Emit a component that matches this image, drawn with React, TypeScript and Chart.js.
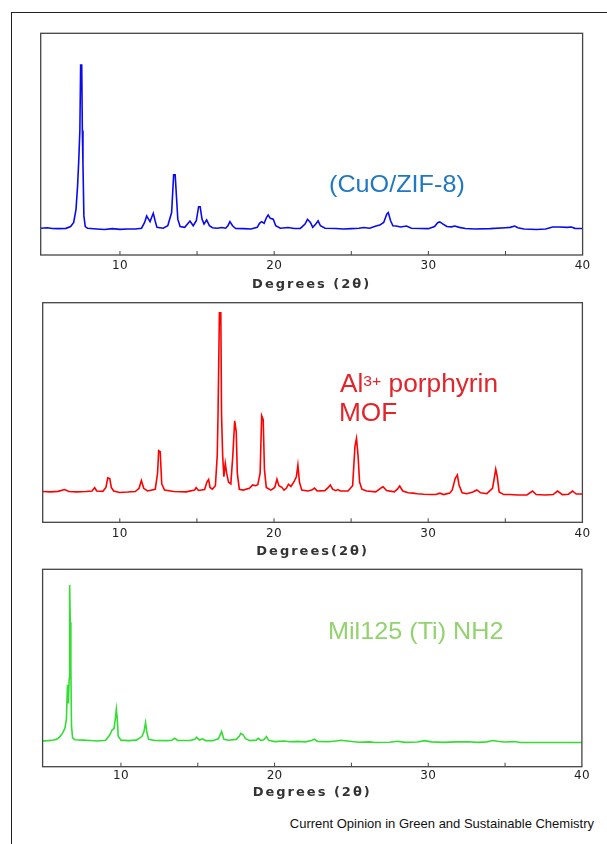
import React, { useEffect, useRef } from 'react';
import { Chart, registerables } from 'chart.js';

Chart.register(...registerables);

// ---------- data (2θ in degrees, relative intensity) ----------
const cuoZif8: [number, number][] = [
  [4.86, 0.5], [5.3, 0.8], [5.6, 0.3], [6.0, 0.2], [6.5, 0.4], [6.8, 1.5], [7.0, 4], [7.15, 12], [7.25, 26], [7.32, 40],
  [7.4, 60], [7.45, 100], [7.52, 100], [7.56, 60], [7.6, 40], [7.66, 8], [7.75, 1.5], [7.9, 0.4], [8.5, 0], [9.0, -0.3],
  [9.5, 0.2], [10.0, -0.2], [10.5, 0], [11.0, 0], [11.4, 0.5], [11.6, 4], [11.73, 7.9], [11.85, 6], [11.95, 4.5], [12.05, 7],
  [12.16, 9.6], [12.28, 5], [12.4, 1], [12.8, 0.5], [13.1, 2], [13.35, 10], [13.48, 33], [13.58, 33], [13.65, 22], [13.75, 6],
  [13.9, 1.5], [14.2, 1], [14.54, 4.9], [14.75, 2], [14.95, 5], [15.1, 13.6], [15.2, 13.6], [15.32, 6], [15.45, 3], [15.62, 5.5],
  [15.8, 2], [16.0, 0.8], [16.3, 0.5], [16.6, 0.9], [16.85, 0.5], [17.0, 2], [17.13, 4.5], [17.3, 2], [17.5, 0.3], [18.0, 0.2],
  [18.5, 0], [18.9, 1], [19.05, 3.5], [19.18, 4.5], [19.35, 3.5], [19.5, 7], [19.61, 8.5], [19.75, 6.5], [19.94, 6], [20.1, 2],
  [20.4, 0.5], [20.9, 0.9], [21.3, 0.3], [21.7, 0.4], [22.0, 3], [22.16, 5.9], [22.35, 4], [22.5, 1], [22.7, 3], [22.85, 5],
  [23.0, 2], [23.3, 0.5], [24.0, 0.3], [24.5, 0], [25.0, 0.2], [25.5, 0.5], [25.8, 0.9], [26.2, 0.5], [26.6, 1.8], [26.85, 2.4],
  [27.1, 4], [27.3, 9], [27.4, 10], [27.55, 5], [27.7, 2], [27.9, 1.8], [28.2, 1.2], [28.58, 1.8], [28.9, 0.5], [29.5, 0.3],
  [30.0, 0.2], [30.4, 1.5], [30.6, 3.8], [30.74, 4.3], [30.95, 3], [31.2, 1.5], [31.5, 1.3], [31.71, 1.8], [32.0, 1], [32.4, 0.3],
  [33.0, 0], [34.0, 0.2], [35.0, 0.8], [35.3, 1], [35.6, 1.8], [35.8, 0.8], [36.2, 0], [37.0, -0.3], [37.6, 0], [38.06, 1.2],
  [38.5, 1.2], [39.0, 1], [39.27, 1.2], [39.5, 0.4], [40, 0.3],
];

const alPorphyrinMof: [number, number][] = [
  [5.0, -0.3], [5.5, -0.5], [6.0, -0.2], [6.42, 0.8], [6.7, -0.3], [7.2, -0.5], [7.8, -0.3], [8.2, 0], [8.37, 1.9], [8.5, 0],
  [8.9, -0.2], [9.1, 2], [9.22, 7.4], [9.35, 7], [9.45, 2], [9.6, 0], [10.0, -0.8], [10.5, -0.6], [11.0, -0.3], [11.25, 1.5],
  [11.4, 5.9], [11.55, 1.5], [11.8, 0], [12.3, 1], [12.45, 10], [12.52, 22.6], [12.62, 22], [12.72, 4], [12.9, 0.5], [13.5, -0.3],
  [14.3, -0.5], [14.85, 0.5], [14.95, 1.9], [15.1, 0.3], [15.5, 0.8], [15.65, 5], [15.76, 6.5], [15.85, 2], [16.0, 1], [16.2, 3],
  [16.32, 20], [16.37, 42.6], [16.46, 100], [16.55, 100], [16.6, 42], [16.67, 20], [16.75, 8], [16.84, 15.5], [16.93, 10], [17.05, 5],
  [17.2, 4], [17.33, 20], [17.45, 39.4], [17.55, 33.3], [17.62, 10], [17.75, 1], [18.0, 0.5], [18.4, 1.5], [18.62, 3.4], [18.8, 3],
  [18.95, 3.5], [19.1, 10], [19.2, 42.2], [19.3, 40], [19.38, 12], [19.5, 2], [19.8, 0.5], [20.05, 2], [20.19, 6.6], [20.32, 3],
  [20.51, 2.1], [20.65, 0.5], [20.8, 1.5], [20.94, 3.8], [21.1, 2.5], [21.3, 5.2], [21.45, 8], [21.55, 14.6], [21.65, 5], [21.8, 0.5],
  [22.2, 0], [22.45, 0.5], [22.63, 1.6], [22.8, 0], [23.3, 0.2], [23.52, 2], [23.65, 3.4], [23.8, 1], [24.0, 0.2], [24.15, 0.8],
  [24.3, 0], [24.8, 0], [25.1, 3], [25.25, 25], [25.35, 29.5], [25.45, 20], [25.55, 5], [25.7, 1], [26.0, 0], [26.6, -0.5],
  [26.9, 1.5], [27.07, 2.4], [27.3, 0.3], [27.8, -0.5], [28.0, 1], [28.15, 2.8], [28.35, 0], [28.7, -1], [29.0, -1.2], [29.3, -1.5],
  [29.7, -1.8], [30.2, -2], [30.5, -2], [30.76, -1.2], [31.0, -2], [31.4, -1.2], [31.56, 0.6], [31.75, 7], [31.89, 9], [32.0, 3.4],
  [32.2, -1], [32.5, -1.5], [32.9, -0.5], [33.15, 0.6], [33.4, -1], [33.8, -1.5], [34.17, 1.5], [34.3, 8], [34.38, 12.2], [34.48, 8],
  [34.6, -0.5], [34.9, -2], [35.3, -2], [35.8, -2.2], [36.4, -2.2], [36.77, 0], [37.0, -2], [37.6, -2.2], [38.1, -2], [38.39, 0],
  [38.7, -2], [39.1, -1.8], [39.36, 0], [39.6, -1.7], [40, -1.7],
];

const mil125TiNh2: [number, number][] = [
  [4.9, 0], [5.3, 0.2], [5.6, 0.6], [5.8, 1], [6.0, 2.5], [6.2, 5], [6.35, 8], [6.45, 14], [6.52, 36], [6.58, 24],
  [6.63, 40], [6.66, 100], [6.7, 76], [6.74, 47], [6.78, 10], [6.85, 2], [7.0, 0.8], [7.5, 0.5], [8.0, 0.3], [8.5, 0],
  [9.0, 0.5], [9.27, 3.8], [9.42, 7], [9.55, 8], [9.63, 14], [9.7, 20.3], [9.76, 14], [9.82, 3], [10.0, 0.5], [10.5, 0.2],
  [11.0, 0.5], [11.36, 2.8], [11.5, 6], [11.6, 11.7], [11.68, 6], [11.8, 1], [12.2, 0.3], [13.0, 0.2], [13.3, 0.5], [13.5, 1.7],
  [13.7, 0.3], [14.5, 0.3], [14.8, 1], [14.92, 2.4], [15.1, 0.6], [15.31, 1.3], [15.5, 0.2], [16.0, 0.2], [16.35, 1.5], [16.55, 6],
  [16.7, 1], [17.0, 0.5], [17.5, 1], [17.7, 3], [17.8, 4.9], [17.95, 4], [18.1, 1.5], [18.4, 0.2], [18.8, 0.5], [18.93, 1.7],
  [19.1, 0.3], [19.3, 0.8], [19.47, 2.8], [19.6, 0.5], [20.0, -0.4], [20.6, 0], [21.0, -0.5], [21.5, -0.3], [22.0, -0.6], [22.4, 0.3],
  [22.6, 1.1], [22.8, -0.3], [23.5, -0.5], [24.0, 0], [24.33, 0.4], [24.7, 0], [25.5, -0.8], [26.2, -0.6], [26.5, -1], [27.5, -0.8],
  [28.0, -0.2], [28.5, -0.9], [29.3, -0.7], [29.76, 0.2], [30.2, -0.6], [31.0, -0.9], [31.8, -0.6], [32.6, -0.5], [33.2, -0.9], [33.8, -0.6],
  [34.2, 0.3], [34.6, -0.4], [35.0, -0.7], [35.6, -0.4], [36, -1], [37, -1], [38, -1], [39, -1], [40, -1],
];

const xTickValues = [10, 20, 30, 40];
const xMinorTickValues = [10, 15, 20, 25, 30, 35];
const xAxisTitles = ['Degrees (2θ)', 'Degrees(2θ)', 'Degrees (2θ)'];
const sampleLabels = ['(CuO/ZIF-8)', 'Al', 'MOF', 'Mil125 (Ti) NH2'];
const sourceText = 'Current Opinion in Green and Sustainable Chemistry';

// ---------- layout ----------
const W = 607;

type Panel = {
  data: [number, number][];
  color: string;
  xMin: number;
  yMin: number;
  yMax: number;
  canvasTop: number;
  canvasHeight: number;
  top: number;
  bottom: number;
  left: number;
  right: number;
  axisH: number;
  tickPad: number;
  title: string;
};

const panels: Panel[] = [
  {
    data: cuoZif8, color: '#0a0af0', xMin: 4.86, yMin: -15.85, yMax: 119.3,
    canvasTop: 15, canvasHeight: 280, top: 33.3, bottom: 255, left: 40.7, right: 582.6,
    axisH: 37.3, tickPad: 4, title: xAxisTitles[0],
  },
  {
    data: alPorphyrinMof, color: '#ff0000', xMin: 5.0, yMin: -17.55, yMax: 105.6,
    canvasTop: 297, canvasHeight: 263, top: 302.7, bottom: 522.3, left: 42.7, right: 582.4,
    axisH: 37.2, tickPad: 4, title: xAxisTitles[1],
  },
  {
    data: mil125TiNh2, color: '#33dd33', xMin: 4.9, yMin: -16.5, yMax: 110,
    canvasTop: 562, canvasHeight: 240, top: 569.3, bottom: 766.7, left: 42.6, right: 581.9,
    axisH: 33.8, tickPad: 2.4, title: xAxisTitles[2],
  },
];

const framePlugin = {
  id: 'frame',
  beforeDraw(chart: any) {
    chart.ctx.letterSpacing = '2px';
  },
  beforeDatasetsDraw(chart: any) {
    chart.ctx.letterSpacing = '0.3px';
  },
  afterDatasetsDraw(chart: any) {
    const { ctx, chartArea: a, scales } = chart;
    const x = scales.x;
    ctx.save();
    ctx.strokeStyle = '#444';
    ctx.lineWidth = 1.3;
    ctx.strokeRect(a.left, a.top, a.right - a.left, a.bottom - a.top);
    ctx.beginPath();
    for (const v of xMinorTickValues) {
      const px = x.getPixelForValue(v);
      ctx.moveTo(px, a.bottom);
      ctx.lineTo(px, a.bottom - 4);
    }
    ctx.lineWidth = 1;
    ctx.stroke();
    ctx.restore();
  },
  afterDraw(chart: any) {
    chart.ctx.letterSpacing = '0px';
  },
};

function PanelChart({ p }: { p: Panel }) {
  const ref = useRef<HTMLCanvasElement>(null);
  useEffect(() => {
    const chart = new Chart(ref.current as HTMLCanvasElement, {
      type: 'line',
      data: {
        datasets: [
          {
            data: p.data.map(([x, y]) => ({ x, y })),
            borderColor: p.color,
            borderWidth: 1.6,
            pointRadius: 0,
            tension: 0,
            fill: false,
          },
        ],
      },
      options: {
        animation: false,
        responsive: false,
        maintainAspectRatio: false,
        events: [],
        layout: {
          padding: {
            top: p.top - p.canvasTop,
            bottom: p.canvasTop + p.canvasHeight - p.bottom - p.axisH,
            left: p.left,
            right: W - p.right,
          },
        },
        plugins: {
          legend: { display: false },
          tooltip: { enabled: false },
          title: { display: false },
        },
        scales: {
          x: {
            type: 'linear',
            min: p.xMin,
            max: 40,
            afterBuildTicks: (s: any) => {
              s.ticks = xTickValues.map((v) => ({ value: v }));
            },
            afterFit: (s: any) => {
              s.height = p.axisH;
            },
            grid: { display: false, drawTicks: false },
            border: { display: false },
            ticks: {
              padding: p.tickPad,
              font: { family: 'DejaVu Sans', size: 12 },
              color: '#222',
              z: 1,
              maxRotation: 0,
              autoSkip: false,
            },
            title: {
              display: true,
              text: p.title,
              font: { family: 'DejaVu Sans', size: 13, weight: 'bold' },
              color: '#333',
              padding: 0,
            },
          },
          y: { display: false, min: p.yMin, max: p.yMax },
        },
      },
      plugins: [framePlugin],
    } as any);
    return () => chart.destroy();
  }, []);
  return (
    <canvas
      ref={ref}
      width={W}
      height={p.canvasHeight}
      style={{ position: 'absolute', left: 0, top: p.canvasTop, width: W, height: p.canvasHeight }}
    />
  );
}

const labelBase: React.CSSProperties = {
  position: 'absolute',
  fontFamily: '"Liberation Sans", Arial, sans-serif',
  lineHeight: 1,
  whiteSpace: 'nowrap',
  transform: 'scaleX(1.05)',
  transformOrigin: 'left',
};

export default function App() {
  return (
    <div
      style={{
        position: 'fixed',
        left: 0,
        top: 0,
        width: W,
        height: 844,
        background: '#fff',
        overflow: 'hidden',
      }}
    >
      <div
        style={{
          position: 'absolute',
          left: 11,
          top: 12,
          width: 700,
          height: 900,
          borderLeft: '1.5px solid #222',
          borderTop: '1.5px solid #222',
        }}
      />
      {panels.map((p, i) => (
        <PanelChart key={i} p={p} />
      ))}
      <div style={{ ...labelBase, left: 329, top: 172.2, fontSize: 24, color: '#1f78c0' }}>{sampleLabels[0]}</div>
      <div style={{ ...labelBase, left: 340, top: 370.5, fontSize: 25, color: '#e3242b' }}>
        {sampleLabels[1]}
        <span style={{ fontSize: 15, verticalAlign: 6 }}>3+</span> porphyrin
      </div>
      <div style={{ ...labelBase, left: 339, top: 400.3, fontSize: 25, color: '#e3242b' }}>{sampleLabels[2]}</div>
      <div style={{ ...labelBase, left: 327.5, top: 618.7, fontSize: 24, color: '#92d36e' }}>{sampleLabels[3]}</div>
      <div
        style={{
          position: 'absolute',
          left: 174,
          width: 420,
          top: 816.5,
          fontSize: 13,
          lineHeight: 1,
          textAlign: 'right',
          fontFamily: '"Liberation Sans", Arial, sans-serif',
          color: '#111',
          whiteSpace: 'nowrap',
        }}
      >
        {sourceText}
      </div>
    </div>
  );
}
